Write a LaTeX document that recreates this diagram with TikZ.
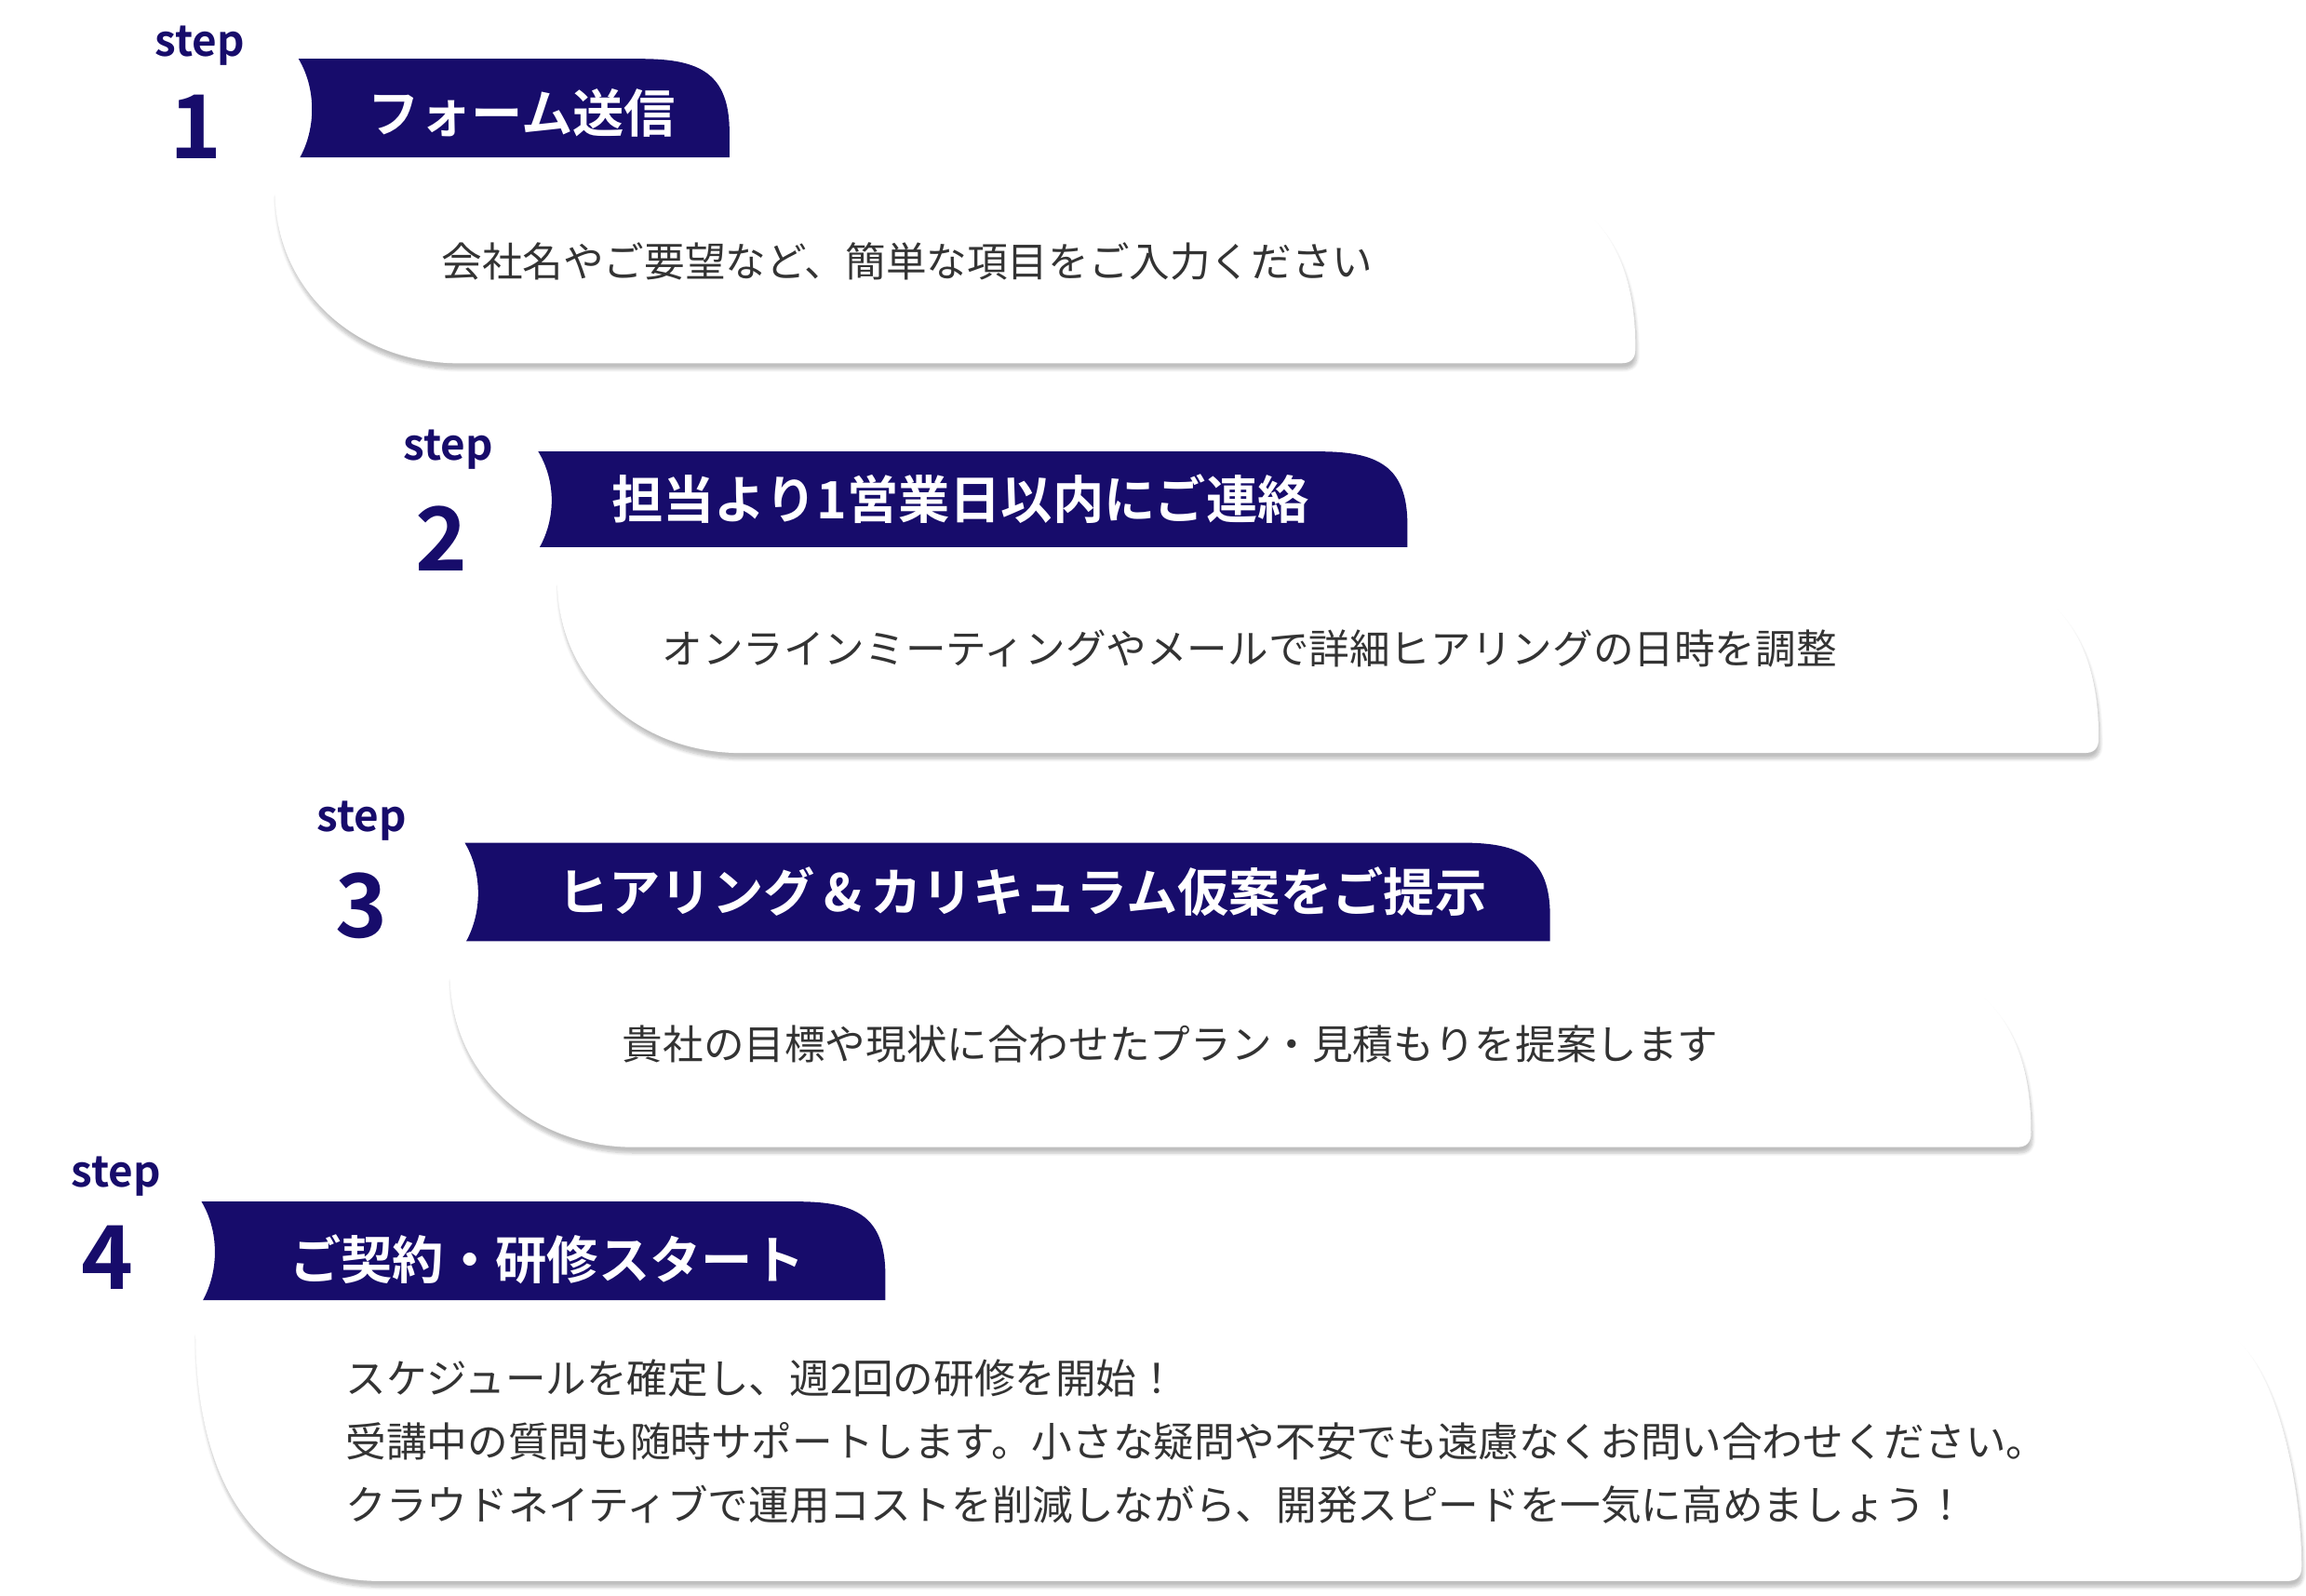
\documentclass[tikz,border=0pt]{standalone}
\usepackage{fontspec}
\setmainfont{Noto Sans CJK JP}
\newfontfamily\jpb{Noto Sans CJK JP Bold}
\usetikzlibrary{shadows.blur}
\definecolor{navy}{HTML}{170C6B}
\definecolor{txt}{HTML}{333333}
\tikzset{
  cardbox/.style={fill=white, blur shadow={shadow xshift=1pt, shadow yshift=-4pt, shadow blur steps=8, shadow opacity=25}},
  tabbox/.style={fill=navy},
  steplbl/.style={text=navy, font=\jpb\fontsize{29}{29}\selectfont, inner sep=0},
  numlbl/.style={text=navy, font=\jpb\fontsize{60}{60}\selectfont, inner sep=0},
  titlelbl/.style={text=white, font=\jpb\fontsize{35}{35}\selectfont, inner sep=0},
  bodylbl/.style={text=txt, font=\fontsize{27.6}{27.6}\selectfont, inner sep=0, anchor=west, align=left}
}
\newcommand{\mycard}[4]{% L, Ct, R, B
  \path[cardbox] (#1,#2) -- ({#3-52},#2) .. controls ({#3-15},{#2+22}) and (#3,{#4-60}) .. (#3,{#4-10})
    .. controls (#3,{#4-3}) and ({#3-3},#4) .. ({#3-10},#4) -- ({#1+125},#4)
    .. controls ({#1+55},#4) and (#1,{#4-50}) .. (#1,#2) -- cycle;}
\newcommand{\mytab}[4]{% L, T, R, B
  \path[tabbox] (#1,#2) .. controls ({#1+12},{#2+20}) and ({#1+12},{#4-20}) .. ({#1+1},#4) -- (#3,#4) -- (#3,{#2+50})
    .. controls (#3,{#2+10}) and ({#3-20},#2) .. ({#3-60},#2) -- cycle;}
\begin{document}
\begin{tikzpicture}[x=1pt,y=-1pt]
\useasboundingbox (0,0) rectangle (1568,1085);
\mycard{133}{905}{1565}{1075}
\mytab{137}{817}{602}{884}
\mycard{306}{663}{1381}{780}
\mytab{316}{573}{1054}{640}
\mycard{379}{395}{1427}{512}
\mytab{366}{307}{957}{372}
\mycard{187}{130}{1112}{247}
\mytab{203}{40}{496}{107}

\node[steplbl] (s1) at (136,31) {step};
\node[numlbl] (n1) at (133,86) {1};
\node[titlelbl] (t1) at (355,77) {フォーム送信};
\node[bodylbl] (b1) at (300,178) {会社名やご要望など、簡単な項目をご入力ください};

\node[steplbl] (s2) at (305,306) {step};
\node[numlbl] (n2) at (300,366) {2};
\node[titlelbl] (t2) at (653,339) {担当より1営業日以内にご連絡};
\node[bodylbl] (b2) at (450,441) {オンラインミーティングやメールで詳細ヒアリングの日時を調整};

\node[steplbl] (s3) at (246,558) {step};
\node[numlbl] (n3) at (246,616) {3};
\node[titlelbl] (t3) at (695,606) {ヒアリング\,\&\,カリキュラム仮案をご提示};
\node[bodylbl] (b3) at (423,710) {貴社の目標や現状に合わせたプラン・見積もりを提案します};

\node[steplbl] (s4) at (79,800) {step};
\node[numlbl] (n4) at (73,855) {4};
\node[titlelbl] (t4) at (372,856) {ご契約・研修スタート};
\node[bodylbl] (b4a) at (235,937) {スケジュールを確定し、週2回の研修を開始！};
\node[bodylbl] (b4b) at (235,980) {受講中の質問も随時サポートします。小さな疑問や不安でも遠慮なくお問い合わせください。};
\node[bodylbl] (b4c) at (235,1023) {クラウドネイティブで運用コストを削減しながら、開発スピードを一気に高めましょう！};
\end{tikzpicture}
\end{document}
